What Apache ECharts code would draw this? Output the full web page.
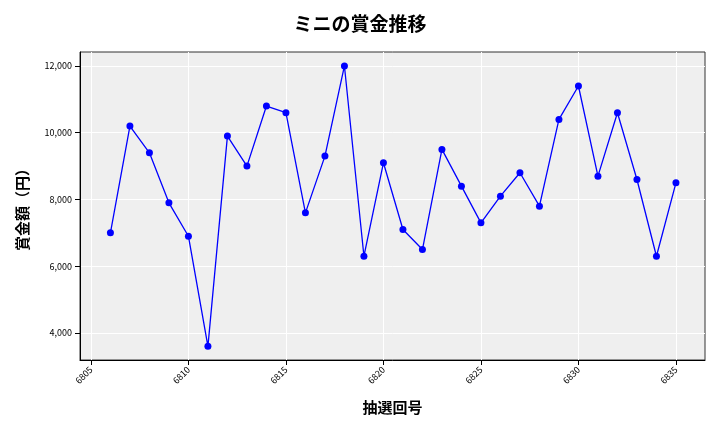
<!DOCTYPE html>
<html>
<head>
<meta charset="utf-8">
<script src="https://cdn.jsdelivr.net/npm/echarts@6/dist/echarts.min.js"></script>
<style>html,body{margin:0;padding:0;background:#fff}#chart{width:720px;height:432px}</style>
</head>
<body>
<div id="chart"></div>
<script>
const draws = [6806, 6807, 6808, 6809, 6810, 6811, 6812, 6813, 6814, 6815,
  6816, 6817, 6818, 6819, 6820, 6821, 6822, 6823, 6824, 6825,
  6826, 6827, 6828, 6829, 6830, 6831, 6832, 6833, 6834, 6835];
const prizes = [7000, 10200, 9400, 7900, 6900, 3600, 9900, 9000, 10800, 10600,
  7600, 9300, 12000, 6300, 9100, 7100, 6500, 9500, 8400, 7300,
  8100, 8800, 7800, 10400, 11400, 8700, 10600, 8600, 6300, 8500];
const xTicks = [6805, 6810, 6815, 6820, 6825, 6830, 6835];
const yTicks = [4000, 6000, 8000, 10000, 12000];

const font = "Noto Sans CJK JP";
const chart = echarts.init(document.getElementById("chart"));
chart.setOption({
  textStyle: { fontFamily: font },
  title: {
    text: "ミニの賞金推移",
    left: "center",
    top: 9,
    textStyle: { fontFamily: font, fontSize: 19, fontWeight: "bold", color: "#000" },
  },
  grid: { left: 80, right: 15, top: 52, bottom: 72, backgroundColor: "#efefef", show: true, borderWidth: 1, borderColor: "#333" },
  xAxis: {
    type: "value",
    min: 6804.44,
    max: 6836.49,
    name: "抽選回号",
    nameLocation: "middle",
    nameGap: 40,
    nameTextStyle: { fontSize: 15, fontWeight: "bold", color: "#000" },
    axisLine: { show: true, lineStyle: { color: "#000" } },
    axisTick: { show: true, customValues: xTicks, lineStyle: { color: "#000" } },
    axisLabel: { customValues: xTicks, rotate: 45, fontSize: 9, color: "#000", formatter: (v) => String(v) },
    splitLine: { show: true, lineStyle: { color: "#fff", width: 1 } },
  },
  yAxis: {
    type: "value",
    min: 3191,
    max: 12419,
    name: "賞金額（円）",
    nameLocation: "middle",
    nameGap: 50,
    nameTextStyle: { fontSize: 15, fontWeight: "bold", color: "#000" },
    axisLine: { show: true, lineStyle: { color: "#000" } },
    axisTick: { show: true, customValues: yTicks, lineStyle: { color: "#000" } },
    axisLabel: {
      customValues: yTicks, fontSize: 9, color: "#000",
      formatter: (v) => v.toLocaleString("en-US"),
    },
    splitLine: { show: true, lineStyle: { color: "#fff", width: 1 } },
  },
  series: [{
    type: "line",
    data: draws.map((d, i) => [d, prizes[i]]),
    symbol: "circle",
    symbolSize: 7,
    itemStyle: { color: "#0000ff" },
    lineStyle: { color: "#0000ff", width: 1.3 },
    animation: false,
  }],
});
</script>
</body>
</html>
